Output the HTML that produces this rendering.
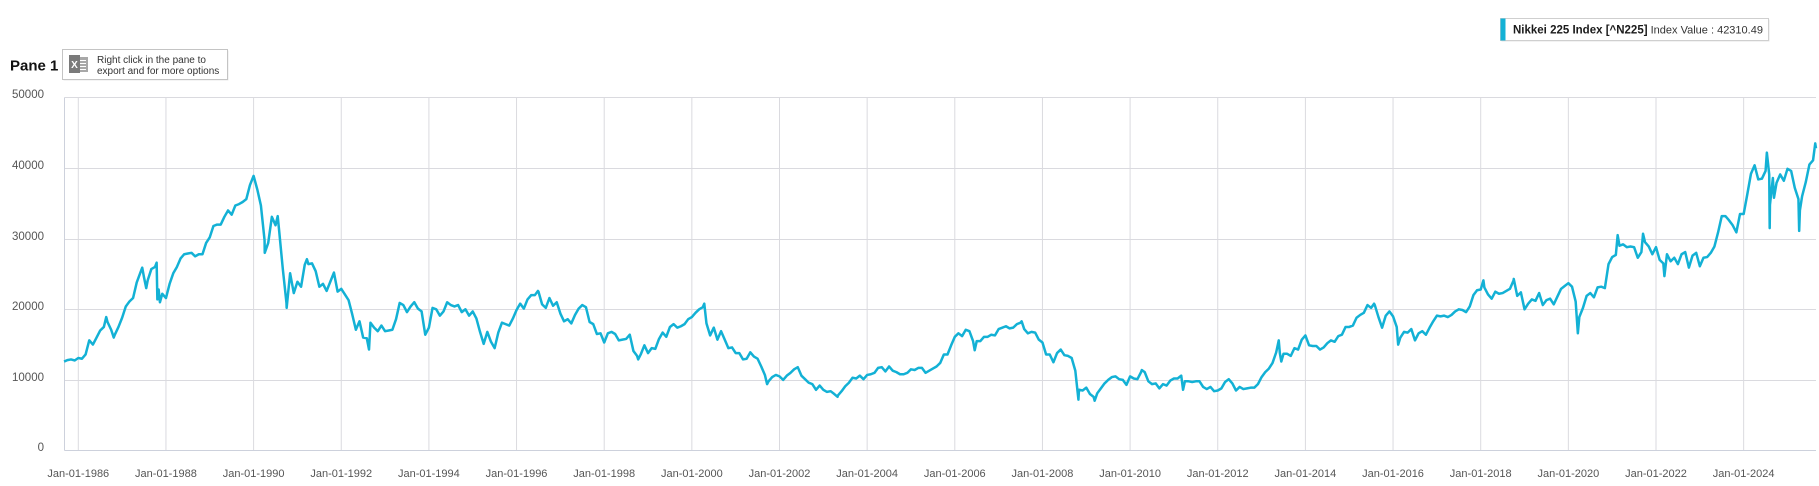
<!DOCTYPE html>
<html><head><meta charset="utf-8"><style>
html,body{margin:0;padding:0;background:#fff;}
svg{display:block;font-family:"Liberation Sans",Arial,sans-serif;}
</style></head><body>
<svg width="1819" height="486" viewBox="0 0 1819 486" xmlns="http://www.w3.org/2000/svg">
<rect width="1819" height="486" fill="#fff"/>
<!-- legend -->
<rect x="1501.5" y="19.5" width="268" height="22" fill="#e6e6e6"/>
<rect x="1500.5" y="18.5" width="268" height="22" fill="#fff" stroke="#cfcfcf"/>
<rect x="1500.5" y="18.5" width="5" height="22" fill="#13b1d5"/>
<text x="1513" y="33.5" font-size="11.5" fill="#1a1a1a"><tspan font-weight="bold">Nikkei 225 Index [^N225]</tspan><tspan font-size="11" fill="#333"> Index Value : 42310.49</tspan></text>
<!-- pane label -->
<text x="10" y="70.5" font-size="15" font-weight="bold" fill="#111">Pane 1</text>
<rect x="63.5" y="50.5" width="165" height="30" fill="#e9e9e9"/>
<rect x="62.5" y="49.5" width="165" height="30" fill="#fff" stroke="#c4c4c4"/>
<rect x="78" y="57" width="10" height="15" fill="#a8a8a8"/>
<line x1="80" y1="60.5" x2="86" y2="60.5" stroke="#fff"/><line x1="80" y1="63.5" x2="86" y2="63.5" stroke="#fff"/><line x1="80" y1="66.5" x2="86" y2="66.5" stroke="#fff"/><line x1="80" y1="69.5" x2="86" y2="69.5" stroke="#fff"/>
<rect x="69" y="55" width="11" height="18" fill="#7a7a7a"/>
<text x="74.5" y="68" font-size="10" font-weight="bold" fill="#fff" text-anchor="middle">X</text>
<text x="97" y="62.8" font-size="10" fill="#333">Right click in the pane to</text>
<text x="97" y="74.2" font-size="10" fill="#333">export and for more options</text>
<!-- horizontal grid -->
<g stroke="#dadadf" stroke-width="1">
<line x1="64.5" y1="97.5" x2="1816" y2="97.5"/>
<line x1="64.5" y1="168.5" x2="1816" y2="168.5"/>
<line x1="64.5" y1="239.5" x2="1816" y2="239.5"/>
<line x1="64.5" y1="309.5" x2="1816" y2="309.5"/>
<line x1="64.5" y1="380.5" x2="1816" y2="380.5"/>
</g>
<!-- vertical grid -->
<g stroke="#dadadf" stroke-width="1">
<line x1="78.3" y1="97.5" x2="78.3" y2="450.5"/>
<line x1="165.95" y1="97.5" x2="165.95" y2="450.5"/>
<line x1="253.6" y1="97.5" x2="253.6" y2="450.5"/>
<line x1="341.25" y1="97.5" x2="341.25" y2="450.5"/>
<line x1="428.9" y1="97.5" x2="428.9" y2="450.5"/>
<line x1="516.55" y1="97.5" x2="516.55" y2="450.5"/>
<line x1="604.2" y1="97.5" x2="604.2" y2="450.5"/>
<line x1="691.85" y1="97.5" x2="691.85" y2="450.5"/>
<line x1="779.5" y1="97.5" x2="779.5" y2="450.5"/>
<line x1="867.15" y1="97.5" x2="867.15" y2="450.5"/>
<line x1="954.8" y1="97.5" x2="954.8" y2="450.5"/>
<line x1="1042.45" y1="97.5" x2="1042.45" y2="450.5"/>
<line x1="1130.1" y1="97.5" x2="1130.1" y2="450.5"/>
<line x1="1217.75" y1="97.5" x2="1217.75" y2="450.5"/>
<line x1="1305.4" y1="97.5" x2="1305.4" y2="450.5"/>
<line x1="1393.05" y1="97.5" x2="1393.05" y2="450.5"/>
<line x1="1480.7" y1="97.5" x2="1480.7" y2="450.5"/>
<line x1="1568.35" y1="97.5" x2="1568.35" y2="450.5"/>
<line x1="1656" y1="97.5" x2="1656" y2="450.5"/>
<line x1="1743.65" y1="97.5" x2="1743.65" y2="450.5"/>
</g>
<!-- axes -->
<line x1="64.5" y1="97.5" x2="64.5" y2="450.5" stroke="#cdd1dc"/>
<line x1="64.5" y1="450.5" x2="1816" y2="450.5" stroke="#cdd1dc"/>
<!-- y labels -->
<g font-size="11.5" fill="#555" text-anchor="end">
<text x="44" y="98">50000</text>
<text x="44" y="169">40000</text>
<text x="44" y="240">30000</text>
<text x="44" y="310">20000</text>
<text x="44" y="381">10000</text>
<text x="44" y="451">0</text>
</g>
<!-- x labels -->
<g font-size="11" fill="#555" text-anchor="middle">
<text x="78.3" y="477">Jan-01-1986</text>
<text x="165.95" y="477">Jan-01-1988</text>
<text x="253.6" y="477">Jan-01-1990</text>
<text x="341.25" y="477">Jan-01-1992</text>
<text x="428.9" y="477">Jan-01-1994</text>
<text x="516.55" y="477">Jan-01-1996</text>
<text x="604.2" y="477">Jan-01-1998</text>
<text x="691.85" y="477">Jan-01-2000</text>
<text x="779.5" y="477">Jan-01-2002</text>
<text x="867.15" y="477">Jan-01-2004</text>
<text x="954.8" y="477">Jan-01-2006</text>
<text x="1042.45" y="477">Jan-01-2008</text>
<text x="1130.1" y="477">Jan-01-2010</text>
<text x="1217.75" y="477">Jan-01-2012</text>
<text x="1305.4" y="477">Jan-01-2014</text>
<text x="1393.05" y="477">Jan-01-2016</text>
<text x="1480.7" y="477">Jan-01-2018</text>
<text x="1568.35" y="477">Jan-01-2020</text>
<text x="1656" y="477">Jan-01-2022</text>
<text x="1743.65" y="477">Jan-01-2024</text>
</g>
<!-- series -->
<g transform="translate(78.3 450.5) scale(3.6521 -0.706)">
<polyline fill="none" stroke="#13b1d5" stroke-width="2.5" stroke-linejoin="round" vector-effect="non-scaling-stroke" points="
-3.9,126 -3,128 -2,129 -1,127.5 0,131
1,130 2,136 3,156 4,150 5,160 6,170 7,175 7.65,189 8,182 9,171 9.7,160 10,164 11,175 12,188
13,204 14,211 15,216 16,238 17,252 17.5,259 18,245 18.6,230 19,241 20,257 21,260 21.45,266 21.65,214 22,228 22.35,210 23,222 24,216
25,236 26,251 27,260 28,272 29,278 30,279 31,280 32,275 33,278 34,278 35,294 36,302
37,318 38,320 39,320 40,331 41,340 42,334 43,347 44,349 45,352 46,356 47,376 48,389
49,370 50,347 51,298 51.05,280 52,294 53,331 54,319 54.6,332 55,311 56,257 57,209 57.05,202 58,251 59,223 60,239
61,232 62,263 62.6,271 63,264 64,265 65,254 66,232 67,236 68,226 69,239 70,252 71,225 72,229
73,221 74,213 75,193 76,171 77,183 78,160 79,159 79.6,143 80,181 81,174 82,169 83,177 84,169
85,170 86,171 87,186 88,209 89,206 90,196 91,204 92,210 93,201 94,197 95,164 96,174
97,202 98,200 99,191 100,197 101,210 102,206 103,204 104,206 105,196 106,200 107,191 108,197
109,187 110,168 111,151 112,168 113,154 114,145 115,167 116,181 117,179 118,177 119,187 120,199
121,208 122,201 123,214 124,220 125,220 125.85,226 126,225 127,207 128,202 129,216 130,205 131,210 132,194
133,183 134,186 135,180 136,192 137,201 138,206 139,203 140,182 141,179 142,165 143,166 144,153
145,166 146,168 147,165 148,156 149,157 150,158 151,164 152,141 153,134 153.3,129 154,136 155,149 156,138
157,145 158,144 159,158 160,167 161,161 162,175 163,179 164,174 165,176 166,179 167,186 168,189
169,195 170,200 171,203 171.4,208 172,180 173,163 174,174 175,157 176,169 177,157 178,145 179,146 180,138
181,138 182,129 183,130 184,139 185,133 186,130 187,119 188,107 188.6,94 189,98 190,104 191,107 192,105
193,100 194,106 195,110 196,115 197,118 198,106 199,101 200,96 201,94 202,86 203,92 204,86
205,83 206,84 207,80 207.9,76 208,78 209,84 210,91 211,96 212,103 213,102 214,106 215,101 216,107
217,108 218,110 219,117 220,118 221,112 222,119 223,113 224,111 225,108 226,108 227,110 228,115
229,114 230,117 231,117 232,110 233,113 234,116 235,119 236,124 237,136 238,136 239,149 240,161
241,166 242,162 243,171 244,169 245,155 245.45,142 246,155 247,155 248,161 249,161 250,164 251,163 252,172
253,174 254,176 255,173 256,174 257,179 258,181 258.3,183 259,172 260,166 261,168 262,167 263,157 264,153
265,136 266,136 267,125 268,138 269,143 270,135 271,134 272,131 273,113 273.85,72 274,86 275,85 276,89
277,80 278,76 278.3,70.5 279,81 280,88 281,95 282,100 283,104 284,105 285,101 286,100 287,93 288,105
289,102 290,101 291,111 291.2,114 292,111 293,98 294,94 295,95 296,88 297,94 298,92 299,99 300,102
301,102 302,106 302.5,86 303,98 304,98 305,97 306,98 307,98 308,90 309,87 310,90 311,84 312,85
313,88 314,97 315,101 316,95 317,85 318,90 319,87 320,88 321,89 322,89 323,94 324,104
325,111 326,116 327,124 328,139 328.7,156 329,138 329.4,126 330,137 331,137 332,134 333,145 334,143 335,157 336,163
337,149 338,148 339,148 340,143 341,146 342,152 343,156 344,154 345,162 346,164 347,175 348,175
349,177 350,188 351,192 352,195 353,206 354,202 354.8,208 355,206 356,189 357,174 358,191 359,197 360,190
361,175 361.4,150 362,160 363,168 364,167 365,172 366,156 367,166 368,169 369,164 370,174 371,183 372,191
373,190 374,191 375,189 376,192 377,197 378,200 379,199 380,196 381,204 382,220 383,227 384,228
384.74,241 385,231 386,221 387,215 388,225 389,222 390,223 391,226 392,229 393,241 393.05,243 394,219 395,224 396,200
397,208 398,214 399,212 400,223 401,206 402,213 403,215 404,207 405,218 406,229 407,233 408,237
409,232 410,211 410.6,166 411,189 412,202 413,219 414,223 415,217 416,231 417,232 418,230 419,264 420,274
421,277 421.5,305 422,290 423,292 424,288 425,289 426,288 427,273 428,281 428.45,307 429,295 430,289 431,278 432,288
433,270 434,265 434.3,247 435,278 436,268 437,273 438,264 439,278 440,281 441,259 442,276 443,280 444,261
445,273 446,274 447,280 448,289 449,309 450,332 451,332 452,326 453,319 454,309 455,335 456,335
457,363 458,392 459,404 460,384 461,385 462,396 462.35,422 463,391 463.13,315 463.2,348 464,386 464.3,358 465,379 466,391 467,382 468,399
469,396 470,372 471,356 471.2,311 471.4,340 472,360 473,380 474,405 475,411 475.6,435 475.8,428"/>
</g>
</svg>
</body></html>
